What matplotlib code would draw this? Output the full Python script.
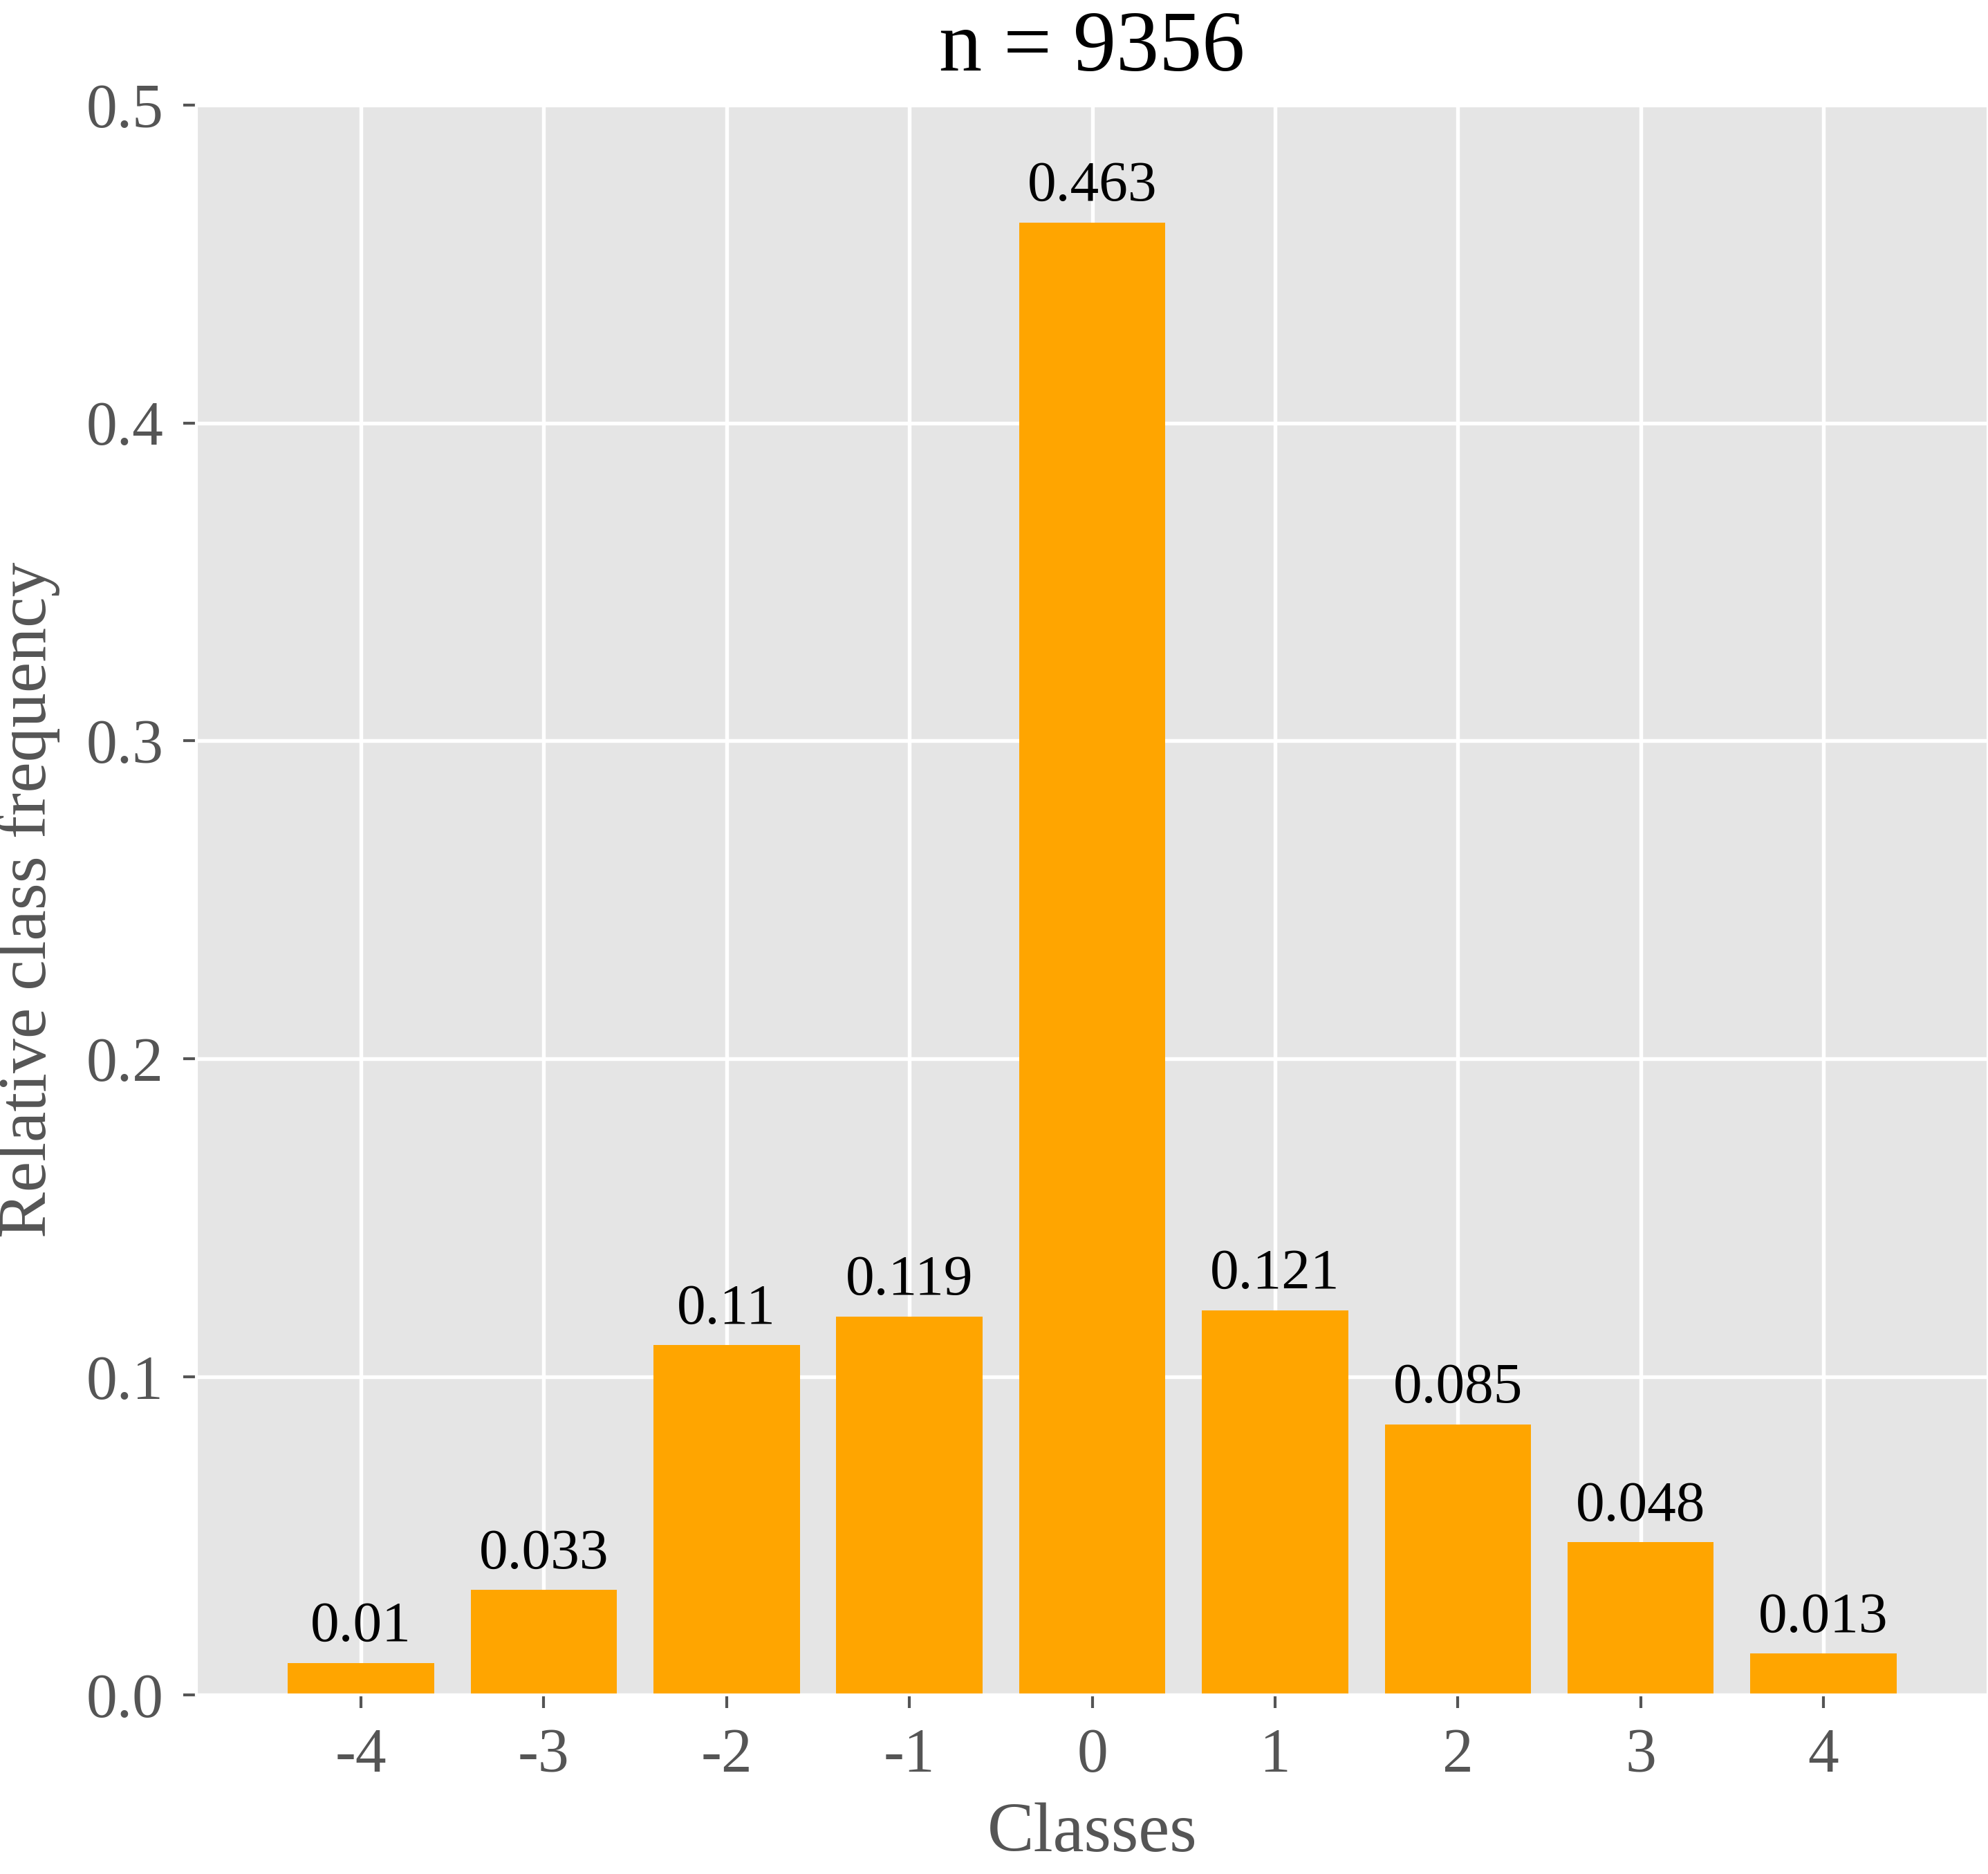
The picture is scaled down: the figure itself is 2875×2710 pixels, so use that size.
import matplotlib
matplotlib.use('Agg')
from matplotlib import pyplot as plt
import numpy as np

# data
classes = [-4, -3, -2, -1, 0, 1, 2, 3, 4]
rel_freq = [0.01, 0.033, 0.11, 0.119, 0.463, 0.121, 0.085, 0.048, 0.013]
bar_labels = ['0.01', '0.033', '0.11', '0.119', '0.463', '0.121', '0.085', '0.048', '0.013']
n_total = 9356


def main():
    plt.style.use('ggplot')
    plt.rcParams['font.family'] = ['Liberation Serif', 'DejaVu Serif']
    plt.rcParams['font.size'] = 21.5

    fig = plt.figure(figsize=(2875 / 300, 2710 / 300), dpi=300)
    ax = fig.add_axes([0.0988, 0.0956, 0.9012, 0.8484])

    ax.bar(classes, rel_freq, width=0.8, color='#FFA500', zorder=2)
    for x, h, lab in zip(classes, rel_freq, bar_labels):
        ax.text(x, h + 0.003, lab, ha='center', va='bottom', color='black', fontsize=20)

    ax.set_xlim(-4.9, 4.9)
    ax.set_ylim(0, 0.5)
    ax.set_xticks(classes)
    ax.set_xticklabels([str(c) for c in classes])
    ax.set_yticks(np.arange(0, 0.51, 0.1))
    ax.set_yticklabels(['%.1f' % v for v in np.arange(0, 0.51, 0.1)])
    ax.tick_params(axis='both', which='major', length=4.5, width=1.0, colors='#555555', pad=7)
    ax.grid(True, color='white', linewidth=1.3)
    ax.set_axisbelow(True)

    ax.set_xlabel('Classes', fontsize=24.3, color='#555555', labelpad=6)
    ax.set_ylabel('Relative class frequency', fontsize=24, color='#555555', labelpad=9)
    ax.set_title('n = %d' % n_total, fontsize=29.8, color='black', pad=12)

    fig.savefig('out.png', dpi=300)


if __name__ == '__main__':
    main()
